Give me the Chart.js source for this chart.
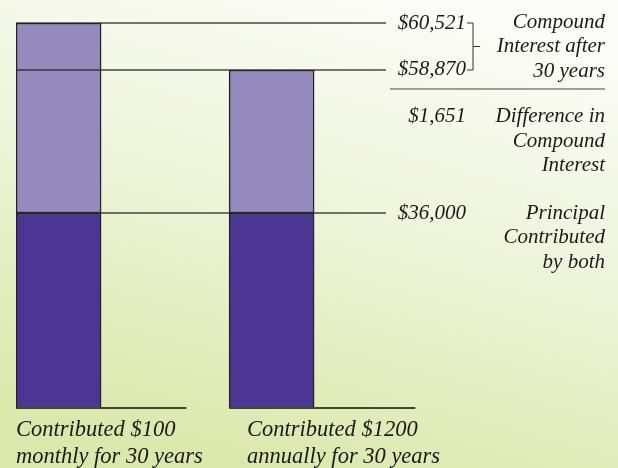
<!DOCTYPE html>
<html>
<head>
<meta charset="utf-8">
<script src="https://cdn.jsdelivr.net/npm/chart.js@4/dist/chart.umd.min.js"></script>
<style>
  html, body { margin: 0; padding: 0; }
  #wrap { width: 618px; height: 468px; }
</style>
</head>
<body>
<div id="wrap"><canvas id="chart"></canvas></div>
<script>
// Data
const categories = [['Contributed $100', 'monthly for 30 years'], ['Contributed $1200', 'annually for 30 years']];
const principal = [36000, 36000];
const totals = [60521, 58870];
const interest = totals.map((t, i) => t - principal[i]);
const valueLabels = ['$60,521', '$58,870', '$1,651', '$36,000'];
const noteInterest = ['Compound', 'Interest after', '30 years'];
const noteDifference = ['Difference in', 'Compound', 'Interest'];
const notePrincipal = ['Principal', 'Contributed', 'by both'];

// The original graphic is not drawn to scale, so the value axis is piecewise linear
const yKnots = [0, principal[0], totals[1], totals[0]];
const yStops = [0, 0.5065, 0.878, 1];

class BrokenScale extends Chart.LinearScale {
    getPixelForValue(value) {
        let i = 1;
        while (i < yKnots.length - 1 && value > yKnots[i]) i++;
        const t = (value - yKnots[i - 1]) / (yKnots[i] - yKnots[i - 1]);
        return this.getPixelForDecimal(yStops[i - 1] + t * (yStops[i] - yStops[i - 1]));
    }
    getValueForPixel(pixel) {
        const dec = this.getDecimalForPixel(pixel);
        let i = 1;
        while (i < yStops.length - 1 && dec > yStops[i]) i++;
        const t = (dec - yStops[i - 1]) / (yStops[i] - yStops[i - 1]);
        return yKnots[i - 1] + t * (yKnots[i] - yKnots[i - 1]);
    }
}
BrokenScale.id = 'broken';
BrokenScale.defaults = Chart.LinearScale.defaults;
Chart.register(BrokenScale);

const FONT = 'italic 21px "Liberation Serif", serif';
const CAT_FONT = 'italic 22.5px "Liberation Serif", serif';

const background = {
    id: 'background',
    beforeDraw(chart) {
        const { ctx, width, height } = chart;
        const g = ctx.createLinearGradient(width * 0.6, 0, width * 0.4, height);
        g.addColorStop(0, '#fbfcf7');
        g.addColorStop(0.45, '#eef4da');
        g.addColorStop(1, '#dbe8ab');
        ctx.save();
        ctx.fillStyle = g;
        ctx.fillRect(0, 0, width, height);
        ctx.restore();
    }
};

const annotations = {
    id: 'annotations',
    afterDatasetsDraw(chart) {
        const { ctx, chartArea } = chart;
        const x = chart.scales.x, y = chart.scales.y;
        const line = (x1, y1, x2, y2) => { ctx.beginPath(); ctx.moveTo(x1, y1); ctx.lineTo(x2, y2); ctx.stroke(); };
        ctx.save();

        // reference lines across the bars
        ctx.strokeStyle = 'rgba(40,40,40,0.85)';
        ctx.lineWidth = 1.5;
        [totals[0], totals[1], principal[0]].forEach(v => line(chartArea.left, y.getPixelForValue(v), chartArea.right, y.getPixelForValue(v)));

        // baselines under each bar
        const baseSpan = [[-0.2, 0.6], [-0.2, 0.675]];
        const y0 = y.getPixelForValue(0);
        ctx.strokeStyle = '#3d4a2e';
        ctx.lineWidth = 2;
        baseSpan.forEach((s, i) => line(x.getPixelForValue(i + s[0]), y0, x.getPixelForValue(i + s[1]), y0));

        // bracket for the two totals
        const y1 = y.getPixelForValue(totals[0]), y2 = y.getPixelForValue(totals[1]);
        ctx.strokeStyle = '#333';
        ctx.lineWidth = 1;
        ctx.beginPath();
        ctx.moveTo(467, y1); ctx.lineTo(473, y1); ctx.lineTo(473, y2); ctx.lineTo(467, y2);
        ctx.moveTo(473, (y1 + y2) / 2); ctx.lineTo(480, (y1 + y2) / 2);
        ctx.stroke();

        // separator
        ctx.strokeStyle = '#444';
        line(390, y2 + 19, 605, y2 + 19);

        // value labels
        ctx.font = FONT;
        ctx.fillStyle = '#1a1a1a';
        ctx.textBaseline = 'middle';
        ctx.textAlign = 'right';
        const valueY = [y1, y2, y2 + 47, y.getPixelForValue(principal[0])];
        valueLabels.forEach((t, i) => ctx.fillText(t, 466, valueY[i]));

        // notes
        const notes = [[noteInterest, y1 - 1], [noteDifference, y2 + 47], [notePrincipal, valueY[3]]];
        notes.forEach(([lines, top]) => lines.forEach((t, k) => ctx.fillText(t, 605, top + k * 24.5)));

        // category labels
        ctx.font = CAT_FONT;
        ctx.textAlign = 'left';
        const shift = [0, 18];
        categories.forEach((lines, i) => {
            const lx = x.getPixelForValue(i - 0.2) + shift[i];
            lines.forEach((t, k) => ctx.fillText(t, lx, y0 + 22 + k * 27));
        });
        ctx.restore();
    }
};

new Chart(document.getElementById('chart'), {
    type: 'bar',
    data: {
        datasets: [{
            label: 'Principal',
            data: principal.map((v, i) => ({ x: i, y: v })),
            backgroundColor: '#4b3693'
        }, {
            label: 'Compound interest',
            data: interest.map((v, i) => ({ x: i, y: v })),
            backgroundColor: '#9689be'
        }]
    },
    options: {
        responsive: true,
        maintainAspectRatio: false,
        animation: false,
        barThickness: 85,
        borderWidth: 1.5,
        borderColor: '#222',
        borderSkipped: false,
        layout: { padding: { left: 16, right: 232, top: 23, bottom: 60 } },
        plugins: { legend: { display: false }, tooltip: { enabled: false } },
        scales: {
            x: { type: 'linear', stacked: true, offset: false, min: -0.2, max: 1.537, display: false },
            y: { type: 'broken', stacked: true, min: 0, max: totals[0], display: false }
        }
    },
    plugins: [background, annotations]
});
</script>
</body>
</html>
